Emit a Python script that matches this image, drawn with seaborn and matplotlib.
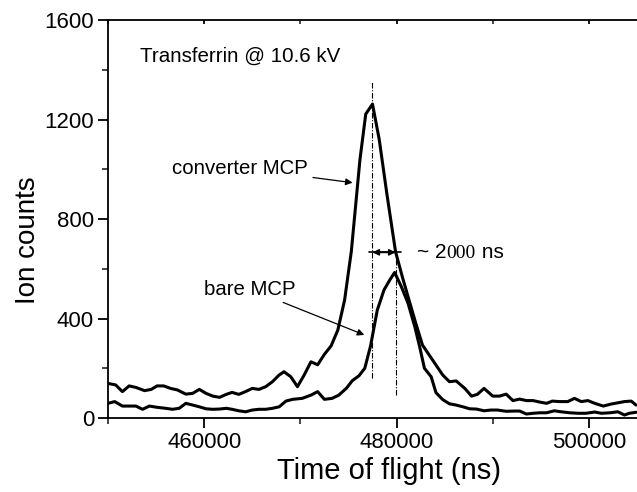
import matplotlib
matplotlib.use("Agg")
import matplotlib.pyplot as plt
import matplotlib.ticker as mticker
import numpy as np
import pandas as pd
import seaborn as sns

# Time-of-flight spectrum of transferrin, converter MCP detector
conv_t = [450000, 450800, 451500, 452200, 452900, 453800, 454500, 455100, 455800,
          456500, 457200, 458100, 458800, 459500, 460200, 460900, 461600, 462300,
          462900, 463600, 464300, 465000, 465700, 466400, 467100, 467800, 468300,
          469000, 469700, 470400, 471100, 471800, 472500, 473200, 473900, 474600,
          475300, 476200, 476800, 477500, 478200, 479000, 479900, 480600, 481300,
          482000, 482700, 483400, 484100, 484800, 485500, 486200, 487100, 487800,
          488400, 489100, 490000, 490700, 491400, 492100, 492800, 493500, 494200,
          494900, 495600, 496200, 496900, 497800, 498500, 499200, 499900, 500600,
          501500, 502300, 503000, 503700, 504400, 504900]
conv_counts = [139, 133, 106, 129, 123, 110, 115, 129, 129,
               119, 113, 96, 99, 115, 99, 88, 83, 95,
               103, 95, 106, 119, 115, 126, 146, 173, 186,
               166, 126, 173, 226, 214, 256, 290, 354, 474,
               670, 1040, 1222, 1262, 1120, 900, 668, 568, 474,
               381, 293, 253, 213, 173, 146, 149, 119, 88,
               95, 119, 88, 88, 96, 70, 76, 70, 70,
               64, 59, 68, 66, 66, 79, 66, 70, 59,
               48, 56, 61, 66, 68, 52]

# Same spectrum recorded with the bare MCP
bare_t = [450000, 450700, 451500, 452200, 452900, 453600, 454300, 455100, 456000,
          456700, 457400, 458100, 458800, 459500, 460200, 460900, 461600, 462300,
          462900, 463600, 464300, 465000, 465700, 466400, 467100, 467800, 468500,
          469200, 470200, 471100, 471800, 472500, 473300, 474000, 474800, 475400,
          476100, 476700, 477300, 478000, 478700, 479300, 479800, 480500, 481200,
          481900, 482400, 482900, 483600, 484100, 484800, 485500, 486200, 486900,
          487600, 488300, 489100, 489800, 490500, 491400, 492300, 492800, 493500,
          494200, 494900, 495600, 496400, 497100, 498000, 498900, 499700, 500600,
          501300, 502200, 503000, 503700, 504200, 504900]
bare_counts = [59, 66, 48, 48, 48, 35, 48, 43, 39,
               35, 39, 59, 52, 45, 37, 35, 36, 39,
               35, 29, 25, 32, 35, 35, 39, 45, 68,
               75, 79, 92, 106, 75, 79, 92, 120, 150,
               170, 200, 290, 434, 515, 555, 585, 528, 461,
               367, 287, 200, 166, 102, 74, 57, 52, 45,
               37, 36, 29, 32, 32, 27, 28, 28, 16,
               19, 21, 21, 29, 25, 21, 19, 19, 24,
               19, 21, 25, 12, 19, 23]

x_ticks = [460000, 480000, 500000]
y_ticks = [0, 400, 800, 1200, 1600]

conv_peak_t = 477500
bare_peak_t = 479900

df = pd.concat([
    pd.DataFrame({"t": conv_t, "counts": conv_counts, "detector": "converter MCP"}),
    pd.DataFrame({"t": bare_t, "counts": bare_counts, "detector": "bare MCP"}),
], ignore_index=True)

sns.set_theme(style="ticks")
plt.rcParams["font.family"] = ["Liberation Sans", "DejaVu Sans"]

fig = plt.figure(figsize=(6.37, 4.92), dpi=100)
ax = fig.add_axes([0.1695, 0.1504, 0.8305, 0.8089])

sns.lineplot(data=df, x="t", y="counts", hue="detector",
             palette=["black", "black"], estimator=None, sort=False,
             linewidth=2.2, legend=False, ax=ax)

ax.set_xlim(450000, 505000)
ax.set_ylim(0, 1600)
ax.xaxis.set_major_locator(mticker.FixedLocator(x_ticks))
ax.xaxis.set_minor_locator(mticker.MultipleLocator(10000))
ax.yaxis.set_major_locator(mticker.FixedLocator(y_ticks))
ax.yaxis.set_minor_locator(mticker.MultipleLocator(200))
ax.xaxis.set_major_formatter(mticker.FormatStrFormatter("%d"))
ax.yaxis.set_major_formatter(mticker.FormatStrFormatter("%d"))

for side in ["left", "bottom", "top"]:
    ax.spines[side].set_linewidth(1.3)
    ax.spines[side].set_color("black")
ax.spines["right"].set_visible(False)

ax.tick_params(axis="both", which="major", direction="out", length=7, width=1.3,
               labelsize=16, colors="black", pad=3)
ax.tick_params(axis="both", which="minor", direction="out", length=4, width=1.2)
ax.tick_params(axis="x", which="both", top=True, labeltop=False)
for t in ax.xaxis.get_major_ticks() + ax.xaxis.get_minor_ticks():
    t.tick2line.set_markersize(3)
    t.tick2line.set_marker(3)  # short inward mark on the top spine

ax.set_xlabel("Time of flight (ns)", fontsize=21, color="black")
ax.set_ylabel("Ion counts", fontsize=20, color="black")
ax.xaxis.set_label_coords(0.531, -0.099)
ax.yaxis.set_label_coords(-0.126, 0.447)

# Peak markers
ax.plot([conv_peak_t, conv_peak_t], [160, 1355], color="black", lw=0.8,
        linestyle=(0, (5, 1.5, 1, 1.5)))
ax.plot([bare_peak_t, bare_peak_t], [92, 668], color="black", lw=0.8,
        linestyle=(0, (5, 1.5, 1, 1.5)))

# Peak separation arrow
ax.plot([477150, 480500], [666, 666], color="black", lw=1.2)
ax.annotate("", xy=(conv_peak_t, 666), xytext=(bare_peak_t, 666),
            arrowprops=dict(arrowstyle="<|-|>", color="black", lw=1.2,
                            mutation_scale=9, shrinkA=0, shrinkB=0))

t1 = ax.text(482150, 666, "~ 2", fontsize=15, va="center", ha="left", color="black")
t2 = ax.annotate("000", xy=(1, 0), xycoords=t1, va="bottom", ha="left",
                 fontsize=14, family="Liberation Serif", color="black")
ax.annotate(" ns", xy=(1, 0), xycoords=t2, va="bottom", ha="left",
            fontsize=15, color="black")

ax.text(453340, 1453, "Transferrin @ 10.6 kV", fontsize=14.8, va="center",
        ha="left", color="black")

ax.annotate("converter MCP", xy=(475430, 946), xytext=(456700, 1005),
            fontsize=14.7, va="center", ha="left", color="black",
            arrowprops=dict(arrowstyle="-|>", color="black", lw=0.9,
                            mutation_scale=10, shrinkA=1, shrinkB=0))
ax.annotate("bare MCP", xy=(476650, 334), xytext=(460000, 518),
            fontsize=14.7, va="center", ha="left", color="black",
            arrowprops=dict(arrowstyle="-|>", color="black", lw=0.9,
                            mutation_scale=10, shrinkA=1, shrinkB=0))

fig.savefig("out.png", dpi=100, facecolor="white")
